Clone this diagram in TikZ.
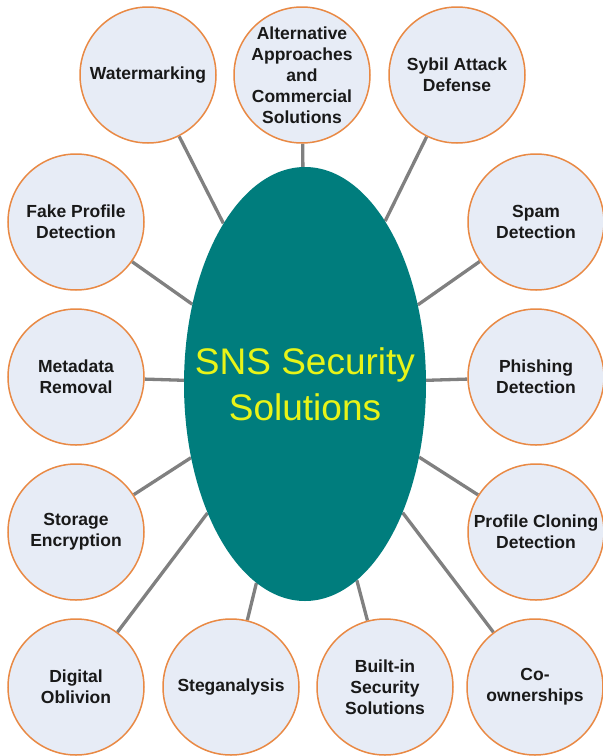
\documentclass[tikz,border=0pt]{standalone}
\usepackage{fontspec}
\setmainfont{Liberation Sans}
\usetikzlibrary{shapes.geometric,backgrounds}
\definecolor{circfill}{RGB}{231,236,246}
\definecolor{circdraw}{RGB}{233,137,68}
\definecolor{hubteal}{RGB}{0,125,125}
\definecolor{linkgray}{RGB}{128,128,128}
\definecolor{hubtext}{RGB}{232,244,24}
\definecolor{labtext}{RGB}{25,25,25}
\tikzset{
  topic/.style={circle, draw=circdraw, line width=1.5pt, fill=circfill, minimum size=136pt, inner sep=0pt},
  topictext/.style={align=center, text=labtext, font=\fontsize{17.5}{21}\selectfont\bfseries, inner sep=0pt},
  hub/.style={ellipse, fill=hubteal, minimum width=242pt, minimum height=434pt, inner sep=0pt},
  hubtxt/.style={align=center, text=hubtext, font=\fontsize{37}{46}\selectfont, inner sep=0pt},
  link/.style={draw=linkgray, line width=3.3pt}
}
\begin{document}
\begin{tikzpicture}[x=1pt,y=-1pt]
\useasboundingbox (0,0) rectangle (603,756);
\node[hub] (hub) at (305,384) {};
\node[hubtxt] (hubt) at (305,384) {SNS Security\\Solutions};

\node[topic] (wm) at (148,75) {};
\node[topictext] (wmt) at (148,75) {Watermarking};
\node[topic] (alt) at (302,75) {};
\node[topictext] (altt) at (302,75) {Alternative\\Approaches\\and\\Commercial\\Solutions};
\node[topic] (syb) at (457,75) {};
\node[topictext] (sybt) at (457,75) {Sybil Attack\\Defense};

\node[topic] (fake) at (76,222) {};
\node[topictext] (faket) at (76,222) {Fake Profile\\Detection};
\node[topic] (spam) at (536,222) {};
\node[topictext] (spamt) at (536,222) {Spam\\Detection};

\node[topic] (meta) at (76,377) {};
\node[topictext] (metat) at (76,377) {Metadata\\Removal};
\node[topic] (phish) at (536,377) {};
\node[topictext] (phisht) at (536,377) {Phishing\\Detection};

\node[topic] (stor) at (76,532) {};
\node[topictext] (stort) at (76,532) {Storage\\Encryption};
\node[topic] (clone) at (536,532) {};
\node[topictext] (clonet) at (536,532) {Profile Cloning\\Detection};

\node[topic] (obl) at (76,687) {};
\node[topictext] (oblt) at (76,687) {Digital\\Oblivion};
\node[topic] (steg) at (231,687) {};
\node[topictext] (stegt) at (231,687) {Steganalysis};
\node[topic] (built) at (385,687) {};
\node[topictext] (builtt) at (385,687) {Built-in\\Security\\Solutions};
\node[topic] (coown) at (535,687) {};
\node[topictext] (coownt) at (535,687) {Co-\\ownerships};

\begin{scope}[on background layer]
\fill[white] (0,0) rectangle (603,756);
\foreach \n in {wm,alt,syb,fake,spam,meta,phish,stor,clone,obl,steg,built,coown}
  \draw[link] (hub) -- (\n);
\end{scope}
\end{tikzpicture}
\end{document}
